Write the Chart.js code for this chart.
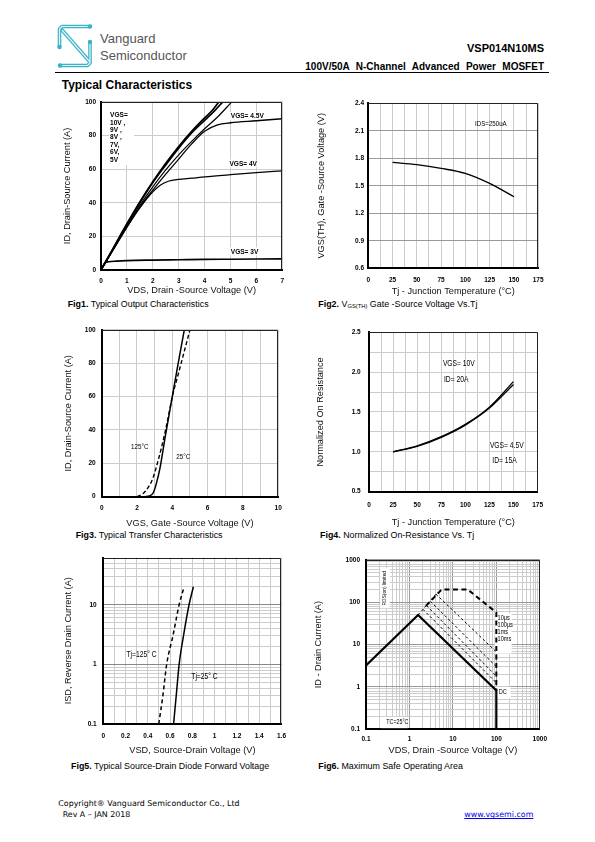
<!DOCTYPE html>
<html>
<head>
<meta charset="utf-8">
<script src="https://cdn.jsdelivr.net/npm/chart.js@4.4.1/dist/chart.umd.min.js"></script>
<style>
html, body { margin: 0; padding: 0; background: #fff; }
body { width: 595px; height: 842px; position: relative; overflow: hidden; font-family: 'Liberation Sans', Arial, sans-serif; color: #000; }
.abs { position: absolute; white-space: nowrap; line-height: 1; }
canvas { position: absolute; }
.cap { position: absolute; font-size: 8.9px; line-height: 10px; white-space: nowrap; }
.cap sub { font-size: 5.8px; vertical-align: -1px; }
.foot { font-family: 'DejaVu Sans', Verdana, sans-serif; font-size: 7.9px; }
</style>
</head>
<body>

<svg class="abs" style="left:55px;top:22px" width="42" height="48" viewBox="0 0 42 48">
  <g fill="none" stroke="#3ab3c7" stroke-width="3.6" stroke-linejoin="round" stroke-linecap="round">
    <path d="M35 4.5 H7 L4.5 7 V25"/>
    <path d="M7 8 L35 40"/>
    <path d="M35 20 V41 L32.5 43.5 H5"/>
  </g>
  <g fill="none" stroke="#e3f5f8" stroke-width="1.2" stroke-linejoin="round">
    <path d="M35 4.5 H7 L4.5 7 V25"/>
    <path d="M7 8 L35 40"/>
    <path d="M35 20 V41 L32.5 43.5 H5"/>
  </g>
  <g fill="#3ab3c7">
    <circle cx="35" cy="4.5" r="2.2"/><circle cx="4.5" cy="25" r="2.2"/>
    <circle cx="35" cy="20" r="2.2"/><circle cx="5" cy="43.5" r="2.2"/>
  </g>
</svg>
<div class="abs" style="left:100px;top:32px;font-size:13px;color:#555">Vanguard</div>
<div class="abs" style="left:100px;top:49px;font-size:13px;color:#555">Semiconductor</div>
<div class="abs" style="right:51px;top:42.7px;font-size:11px;font-weight:bold">VSP014N10MS</div>
<div class="abs" style="right:51px;top:61.6px;font-size:10px;font-weight:bold;word-spacing:3.6px">100V/50A N-Channel Advanced Power MOSFET</div>
<div class="abs" style="left:55px;top:72px;width:494px;height:0;border-top:1px solid #000"></div>
<div class="abs" style="left:61.7px;top:78.8px;font-size:12px;font-weight:bold">Typical Characteristics</div>

<canvas id="c1"></canvas>
<canvas id="c2"></canvas>
<canvas id="c3"></canvas>
<canvas id="c4"></canvas>
<canvas id="c5"></canvas>
<canvas id="c6"></canvas>

<div class="cap" style="left:67.7px;top:299px"><b>Fig1.</b> Typical Output Characteristics</div>
<div class="cap" style="left:318.3px;top:299px"><b>Fig2.</b> V<sub>GS(TH)</sub> Gate -Source Voltage Vs.Tj</div>
<div class="cap" style="left:75.7px;top:530px"><b>Fig3.</b> Typical Transfer Characteristics</div>
<div class="cap" style="left:320px;top:530px"><b>Fig4.</b> Normalized On-Resistance Vs. Tj</div>
<div class="cap" style="left:71px;top:761px"><b>Fig5.</b> Typical Source-Drain Diode Forward Voltage</div>
<div class="cap" style="left:318.3px;top:761px"><b>Fig6.</b> Maximum Safe Operating Area</div>

<div class="abs foot" style="left:58.3px;top:800.3px">Copyright® Vanguard Semiconductor Co., Ltd</div>
<div class="abs foot" style="left:62.7px;top:811.3px">Rev A – JAN 2018</div>
<div class="abs foot" style="left:464.3px;top:811.3px;color:#0000ee;text-decoration:underline">www.vgsemi.com</div>

<script>
// ---- Fig1: output characteristics (VDS in V, ID in A)
const fig1Vds10 = [0, 0.5, 1, 1.5, 2, 2.5, 3, 3.5, 4, 4.3, 4.55];
const fig1Id10  = [0, 13.8, 27.5, 40.5, 52.5, 63.5, 73.5, 82.5, 90.5, 95, 100];
const fig1Vds6  = [0, 0.5, 1, 1.5, 2, 2.5, 3, 3.5, 4, 4.4, 4.7];
const fig1Id6   = [0, 13.5, 27, 40, 52, 62.5, 72.5, 81.5, 89, 95, 100];
const fig1Vds5  = [0, 0.5, 1, 1.5, 2, 2.5, 3, 3.5, 4, 4.5, 5.05];
const fig1Id5   = [0, 13, 26, 38.5, 49.5, 59.5, 68.5, 76.5, 84, 91, 100];
const fig1Vds45 = [0, 0.5, 1, 1.5, 2, 2.5, 3, 3.5, 4, 4.5, 5, 6, 7];
const fig1Id45  = [0, 12.8, 25.5, 37.5, 47.5, 57, 66, 75, 82.5, 86.3, 87.6, 88.8, 90];
const fig1Vds4  = [0, 0.5, 1, 1.5, 2, 2.3, 2.6, 3, 3.5, 4, 5, 6, 7];
const fig1Id4   = [0, 12.8, 25.5, 37, 46.5, 50.6, 52.8, 53.9, 54.6, 55.4, 56.7, 57.9, 59];
const fig1Vds3  = [0, 0.08, 0.15, 0.3, 0.6, 1, 2, 3, 4, 5, 6, 7];
const fig1Id3   = [0, 2.5, 4.2, 4.9, 5.3, 5.6, 5.9, 6.1, 6.3, 6.4, 6.5, 6.6];
const fig1XTicks = [0, 1, 2, 3, 4, 5, 6, 7];
const fig1YTicks = [0, 20, 40, 60, 80, 100];

// ---- Fig2: VGS(th) vs Tj
const fig2Tj  = [25, 50, 75, 100, 125, 150];
const fig2Vth = [1.755, 1.73, 1.69, 1.635, 1.525, 1.38];
const fig2XTicks = [0, 25, 50, 75, 100, 125, 150, 175];
const fig2YTicks = [0.6, 0.9, 1.2, 1.5, 1.8, 2.1, 2.4];

// ---- Fig3: transfer characteristics
const fig3Vgs25  = [2.45, 2.7, 2.9, 3.0, 3.1, 3.3, 3.6, 4.0, 4.3, 4.68];
const fig3Id25   = [0, 0.5, 2, 4.5, 8, 17, 36, 60, 78, 100];
const fig3Vgs125 = [2.0, 2.3, 2.6, 2.9, 3.1, 3.4, 3.7, 4.0, 4.3, 4.6, 5.0];
const fig3Id125  = [0, 1.5, 5, 11, 18, 30, 44, 60, 72, 84, 100];
const fig3XTicks = [0, 2, 4, 6, 8, 10];
const fig3YTicks = [0, 20, 40, 60, 80, 100];

// ---- Fig4: normalized on-resistance vs Tj
const fig4Tj   = [25, 50, 75, 100, 125, 150];
const fig4R10  = [1.0, 1.075, 1.19, 1.345, 1.56, 1.88];
const fig4R45  = [1.0, 1.068, 1.182, 1.335, 1.548, 1.845];
const fig4XTicks = [0, 25, 50, 75, 100, 125, 150, 175];
const fig4YTicks = [0.5, 1.0, 1.5, 2.0, 2.5];

// ---- Fig5: body diode forward voltage
const fig5Vsd25  = [0.631, 0.655, 0.681, 0.72, 0.77, 0.809];
const fig5Isd25  = [0.1, 0.3, 1, 3, 10, 20];
const fig5Vsd125 = [0.498, 0.535, 0.569, 0.625, 0.681, 0.726];
const fig5Isd125 = [0.1, 0.3, 1, 3, 10, 20];
const fig5XTicks = [0, 0.2, 0.4, 0.6, 0.8, 1, 1.2, 1.4, 1.6];
const fig5YTicks = [0.1, 1, 10];

// ---- Fig6: safe operating area
const fig6DcV   = [0.1, 1.58, 100, 100];
const fig6DcI   = [3.2, 50, 0.83, 0.1];
const fig6EnvV  = [2.4, 5.5, 22, 100, 100];
const fig6EnvI  = [82, 200, 200, 57, 0.83];
const fig6RdsV  = [1.58, 4.08];
const fig6RdsI  = [50, 155];
const fig6P10usV  = [4.08, 100];
const fig6P10usI  = [155, 6.7];
const fig6P100usV = [3.05, 100];
const fig6P100usI = [105, 3.0];
const fig6P1msV   = [2.48, 100];
const fig6P1msI   = [83, 1.8];
const fig6P10msV  = [2.05, 100];
const fig6P10msI  = [68, 1.25];
const fig6XTicks = [0.1, 1, 10, 100, 1000];
const fig6YTicks = [0.1, 1, 10, 100, 1000];

const SANS = "'Liberation Sans', Arial, sans-serif";
const TICK_FONT = { family: SANS, size: 6.5, weight: 'bold' };
const TITLE_FONT = { family: SANS, size: 9.2 };
const TITLE_LH = TITLE_FONT.size * 1.2;
const NARROW_X = 0.82; // arial-narrow look for the labels inside the plots
const LIGHT = '#cccccc';
const DARK = '#999999';

function range(a, b, s) {
  const out = [];
  for (let v = a; v <= b + s / 1000; v += s) out.push(+v.toFixed(6));
  return out;
}
function logGrid(lo, hi) {
  const out = [];
  for (let e = -1; e <= 3; e++)
    for (let m = 1; m <= 9; m++) {
      const v = +(m * Math.pow(10, e)).toPrecision(3);
      if (v >= lo - 1e-9 && v <= hi + 1e-9) out.push(v);
    }
  return out;
}
const near = (list, v) => list.some(l => Math.abs(l - v) < 1e-7 * Math.max(1, Math.abs(v)));
const isDecade = v => Math.abs(Math.log10(v) - Math.round(Math.log10(v))) < 1e-6;
const pts = (xs, ys) => xs.map((x, i) => ({ x, y: ys[i] }));

function line(xs, ys, w, dash, smooth = true) {
  return {
    data: pts(xs, ys), showLine: true, borderColor: '#000', borderWidth: w,
    borderDash: dash || [], pointRadius: 0, fill: false,
    cubicInterpolationMode: smooth ? 'monotone' : 'default', tension: 0,
  };
}

const framePlugin = {
  id: 'frame',
  beforeDatasetsDraw(chart, args, opts) {
    const { ctx, scales: { x, y } } = chart;
    ctx.save();
    ctx.fillStyle = '#fff';
    (opts.notes || []).forEach(n => {
      if (!n.box) return;
      const px = x.getPixelForValue(n.x), py = y.getPixelForValue(n.y);
      ctx.fillRect(px + n.box[0], py + n.box[1], n.box[2] - n.box[0], n.box[3] - n.box[1]);
    });
    ctx.restore();
  },
  afterDatasetsDraw(chart, args, opts) {
    const { ctx, chartArea: a, scales: { x, y } } = chart;
    ctx.save();
    ctx.fillStyle = '#000';
    ctx.textBaseline = 'middle';
    (opts.notes || []).forEach(n => {
      const px = x.getPixelForValue(n.x), py = y.getPixelForValue(n.y);
      ctx.font = (n.weight || 'normal') + ' ' + (n.size || 7.5) + 'px ' + SANS;
      ctx.save();
      ctx.translate(px, py);
      if (n.rotate) {
        ctx.rotate(-Math.PI / 2);
        ctx.scale(NARROW_X, 1);
        ctx.textAlign = 'center';
        ctx.fillText(n.lines[0], 0, 0);
      } else {
        ctx.scale(NARROW_X, 1);
        ctx.textAlign = 'left';
        n.lines.forEach((t, i) => ctx.fillText(t, 0, i * (n.lh || 8)));
      }
      ctx.restore();
    });
    ctx.strokeStyle = '#222';
    ctx.lineWidth = 1;
    ctx.beginPath();
    ctx.moveTo(a.left, Math.round(a.top) + 0.5);
    ctx.lineTo(Math.round(a.right) - 0.5, Math.round(a.top) + 0.5);
    ctx.lineTo(Math.round(a.right) - 0.5, a.bottom);
    ctx.stroke();
    ctx.restore();
  }
};

function makeChart(id, geo, xAx, yAx, datasets, notes) {
  const cv = document.getElementById(id);
  const left = Math.floor(geo.yTitleX - TITLE_LH / 2);
  const top = Math.floor(geo.plot.t) - 6;
  const right = Math.ceil(geo.plot.r) + 10;
  const bottom = Math.ceil(geo.xTitleY + TITLE_LH / 2) + 1;
  cv.width = right - left;
  cv.height = bottom - top;
  cv.style.left = left + 'px';
  cv.style.top = top + 'px';
  const yW = geo.plot.l - left, xH = bottom - geo.plot.b;

  const axis = (ax, isX) => ({
    type: ax.type || 'linear',
    position: isX ? 'bottom' : 'left',
    min: ax.min, max: ax.max,
    afterBuildTicks: s => { s.ticks = ax.grid.map(v => ({ value: v })); },
    afterFit: s => { if (isX) s.height = xH; else s.width = yW; },
    grid: { color: ax.gridColor || LIGHT, lineWidth: 1, drawTicks: false },
    border: { display: true, color: '#000', width: 2 },
    ticks: {
      autoSkip: false, maxRotation: 0, minRotation: 0,
      padding: isX ? geo.xPad : geo.yPad, font: TICK_FONT, color: '#000',
      callback: v => near(ax.labels, v) ? (ax.fmt ? ax.fmt(v) : String(v)) : '',
    },
    title: {
      display: true, text: ax.title, font: TITLE_FONT, color: '#111',
      padding: isX ? { top: 0, bottom: bottom - geo.xTitleY - TITLE_LH / 2 }
                   : { top: geo.yTitleX - TITLE_LH / 2 - left, bottom: 0 },
    },
  });

  return new Chart(cv, {
    type: 'scatter',
    data: { datasets },
    options: {
      responsive: false, animation: false, events: [],
      layout: { padding: { top: geo.plot.t - top, right: right - geo.plot.r, left: 0, bottom: 0 } },
      scales: { x: axis(xAx, true), y: axis(yAx, false) },
      plugins: { legend: { display: false }, tooltip: { enabled: false }, frame: { notes } },
    },
    plugins: [framePlugin],
  });
}

// Fig1
makeChart('c1',
  { plot: { l: 101, t: 99, r: 282.3, b: 270 }, yTitleX: 67.7, xTitleY: 290, yPad: 5, xPad: 7.2 },
  { min: 0, max: 7, grid: fig1XTicks, labels: fig1XTicks, title: 'VDS, Drain -Source Voltage (V)' },
  { min: 0, max: 100, grid: fig1YTicks, labels: fig1YTicks, title: 'ID, Drain-Source Current (A)' },
  [
    line(fig1Vds3, fig1Id3, 1.6),
    line(fig1Vds4, fig1Id4, 1.3),
    line(fig1Vds45, fig1Id45, 1.3),
    line(fig1Vds5, fig1Id5, 1.2),
    line(fig1Vds6, fig1Id6, 1.7),
    line(fig1Vds10, fig1Id10, 1.7),
  ],
  [
    { x: 0.35, y: 92.2, lines: ['VGS=', '10V ,', '9V ,', '8V ,', '7V,', '6V,', '5V'], lh: 7.4, size: 8, weight: 'bold', box: [-1, -13, 24, 50] },
    { x: 5.01, y: 91.6, lines: ['VGS= 4.5V'], size: 8, weight: 'bold', box: [-1, -4, 34, 4] },
    { x: 4.96, y: 63.3, lines: ['VGS= 4V'], size: 8, weight: 'bold', box: [-1, -4, 27, 4] },
    { x: 5.01, y: 11.1, lines: ['VGS= 3V'], size: 8, weight: 'bold', box: [-1, -4, 27, 4] },
  ]);

// Fig2
makeChart('c2',
  { plot: { l: 368.3, t: 101, r: 541.7, b: 268.3 }, yTitleX: 321.7, xTitleY: 291, yPad: 4.3, xPad: 8.4 },
  { min: 0, max: 175, grid: range(0, 175, 12.5), labels: fig2XTicks, title: 'Tj - Junction Temperature (°C)' },
  { min: 0.6, max: 2.4, grid: fig2YTicks, labels: fig2YTicks, gridColor: DARK, fmt: v => v.toFixed(1), title: 'VGS(TH), Gate -Source Voltage (V)' },
  [ line(fig2Tj, fig2Vth, 1.4) ],
  [ { x: 110, y: 2.17, lines: ['IDS=250uA'], size: 7.5 } ]);

// Fig3
makeChart('c3',
  { plot: { l: 101.7, t: 326, r: 278.3, b: 496.7 }, yTitleX: 68.3, xTitleY: 523.3, yPad: 6, xPad: 7.2 },
  { min: 0, max: 10, grid: range(0, 10, 1), labels: fig3XTicks, title: 'VGS, Gate -Source Voltage (V)' },
  { min: 0, max: 100, grid: fig3YTicks, labels: fig3YTicks, title: 'ID, Drain-Source Current (A)' },
  [
    line(fig3Vgs125, fig3Id125, 1.4, [4, 2.5]),
    line(fig3Vgs25, fig3Id25, 1.5),
  ],
  [
    { x: 1.66, y: 29.7, lines: ['125°C'], size: 7.6 },
    { x: 4.23, y: 24.1, lines: ['25°C'], size: 7.6 },
  ]);

// Fig4
makeChart('c4',
  { plot: { l: 369, t: 326, r: 542.3, b: 491.7 }, yTitleX: 320, xTitleY: 522.3, yPad: 8.3, xPad: 10 },
  { min: 0, max: 175, grid: range(0, 175, 12.5), labels: fig4XTicks, title: 'Tj - Junction Temperature (°C)' },
  { min: 0.5, max: 2.5, grid: range(0.5, 2.5, 0.25), labels: fig4YTicks, fmt: v => v.toFixed(1), title: 'Normalized On Resistance' },
  [
    line(fig4Tj, fig4R10, 1.3),
    line(fig4Tj, fig4R45, 1.3),
  ],
  [
    { x: 76.7, y: 2.11, lines: ['VGS= 10V'], size: 8.2 },
    { x: 77.8, y: 1.9, lines: ['ID= 20A'], size: 8.2 },
    { x: 125.5, y: 1.08, lines: ['VGS= 4.5V'], size: 8.2 },
    { x: 128, y: 0.89, lines: ['ID= 15A'], size: 8.2 },
  ]);

// Fig5
makeChart('c5',
  { plot: { l: 103.3, t: 553, r: 283.3, b: 724 }, yTitleX: 68.3, xTitleY: 750, yPad: 6.6, xPad: 8 },
  { min: 0, max: 1.6, grid: range(0, 1.6, 0.1), labels: fig5XTicks, title: 'VSD, Source-Drain Voltage (V)' },
  { type: 'logarithmic', min: 0.1, max: 62, grid: logGrid(0.1, 62), labels: fig5YTicks,
    gridColor: c => isDecade(c.tick.value) ? '#888' : LIGHT, title: 'ISD, Reverse Drain Current (A)' },
  [
    line(fig5Vsd125, fig5Isd125, 1.5, [4, 3]),
    line(fig5Vsd25, fig5Isd25, 1.5),
  ],
  [
    { x: 0.208, y: 1.44, lines: ['Tj=125° C'], size: 8.2 },
    { x: 0.79, y: 0.61, lines: ['Tj=25° C'], size: 8.2 },
  ]);

// Fig6
makeChart('c6',
  { plot: { l: 366, t: 556, r: 542.7, b: 729.3 }, yTitleX: 318.3, xTitleY: 750, yPad: 6, xPad: 6 },
  { type: 'logarithmic', min: 0.1, max: 1000, grid: logGrid(0.1, 1000), labels: fig6XTicks,
    gridColor: c => isDecade(c.tick.value) ? DARK : LIGHT, title: 'VDS, Drain -Source Voltage (V)' },
  { type: 'logarithmic', min: 0.1, max: 1000, grid: logGrid(0.1, 1000), labels: fig6YTicks,
    gridColor: c => isDecade(c.tick.value) ? DARK : LIGHT, title: 'ID - Drain Current (A)' },
  [
    line(fig6P10msV, fig6P10msI, 1, [2.5, 2.5], false),
    line(fig6P1msV, fig6P1msI, 1, [2.5, 2.5], false),
    line(fig6P100usV, fig6P100usI, 1, [2.5, 2.5], false),
    line(fig6P10usV, fig6P10usI, 1, [2.5, 2.5], false),
    line(fig6RdsV, fig6RdsI, 1, [2.5, 2.5], false),
    line(fig6EnvV, fig6EnvI, 2, [5, 3.5], false),
    line(fig6DcV, fig6DcI, 2.2, [], false),
  ],
  [
    { x: 107, y: 41.2, lines: ['10μs', '100μs', '1ms', '10ms'], lh: 7, size: 6.8, box: [-3, -5, 14, 35] },
    { x: 113, y: 0.74, lines: ['DC'], size: 6.8, box: [-3, -6, 12, 6] },
    { x: 0.294, y: 0.145, lines: ['TC=25°C'], size: 6.5, box: [-5.7, -5.6, 21.3, 5.7] },
    { x: 0.27, y: 214, lines: ['RDS(on) limited'], size: 6, rotate: true, box: [-4.5, -20, 5, 20] },
  ]);
</script>
</body>
</html>
